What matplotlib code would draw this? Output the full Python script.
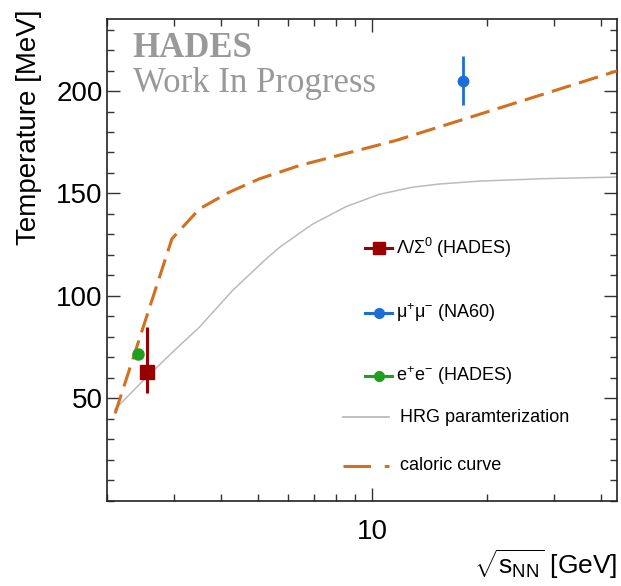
import matplotlib
matplotlib.use("Agg")
import matplotlib.pyplot as plt
from matplotlib.lines import Line2D
from matplotlib.ticker import FixedLocator, NullFormatter, FixedFormatter

# --- data ---
# Lambda/Sigma0 (HADES)
lam_x = [2.55]
lam_T = [63.0]
lam_err_lo = [10.5]
lam_err_hi = [22.0]

# mu+mu- (NA60)
mumu_x = [17.3]
mumu_T = [205.0]
mumu_err = [12.0]

# e+e- (HADES)
ee_x = [2.42]
ee_T = [71.5]

# HRG parametrization
hrg_x = [2.1, 2.55, 3.0, 3.51, 4.29, 5.25, 5.68, 6.42, 6.96, 8.51, 10.4, 12.7, 15.0, 19.1, 28.0, 44.0]
hrg_T = [44.5, 60.4, 73.0, 84.8, 102.7, 118.0, 123.5, 130.5, 135.0, 143.5, 149.5, 153.0, 154.6, 156.0, 157.2, 158.0]

# caloric curve (dashed orange)
cal_x = [2.105, 2.97, 3.51, 4.20, 5.04, 6.42, 11.5, 16.9, 44.0]
cal_T = [42.6, 127.9, 142.5, 150.6, 157.1, 163.6, 175.8, 185.5, 209.8]

x_major = [10]
x_minor = [2, 3, 4, 5, 6, 7, 8, 9, 20, 30, 40]

RED = "#990000"
BLUE = "#1c6fd6"
GREEN = "#1f9e1f"
ORANGE = "#d2701e"
GREY = "#bbbbbb"

plt.rcParams["font.family"] = ["Liberation Sans", "DejaVu Sans"]
plt.rcParams["mathtext.fontset"] = "custom"
plt.rcParams["mathtext.rm"] = "Liberation Sans"
plt.rcParams["mathtext.it"] = "Liberation Sans:italic"

fig = plt.figure(figsize=(6.21, 5.86), dpi=100)
ax = fig.add_axes([0.1718, 0.1456, 0.8218, 0.8214])

ax.plot(hrg_x, hrg_T, color=GREY, lw=1.1, zorder=2)
ax.plot(cal_x, cal_T, color=ORANGE, lw=2.2, dashes=(6.5, 2.8), zorder=3)

ax.errorbar(lam_x, lam_T, yerr=[lam_err_lo, lam_err_hi], fmt="s", color=RED,
            ms=9.5, elinewidth=2.2, capsize=0, zorder=5)
ax.errorbar(mumu_x, mumu_T, yerr=mumu_err, fmt="o", color=BLUE,
            ms=7.5, elinewidth=2.0, capsize=0, zorder=5)
ax.plot(ee_x, ee_T, "o", color=GREEN, ms=8, zorder=5)

ax.set_xscale("log")
ax.set_xlim(2, 44)
ax.set_ylim(0, 235)

ax.xaxis.set_major_locator(FixedLocator(x_major))
ax.xaxis.set_major_formatter(FixedFormatter(["10"]))
ax.xaxis.set_minor_locator(FixedLocator(x_minor))
ax.xaxis.set_minor_formatter(NullFormatter())
ax.yaxis.set_major_locator(FixedLocator([50, 100, 150, 200]))
ax.yaxis.set_minor_locator(FixedLocator(list(range(0, 240, 10))))

ax.tick_params(which="both", direction="in", top=True, right=True, width=1.0, color="#333333")
ax.tick_params(which="major", length=9.5, labelsize=20)
ax.tick_params(which="minor", length=5)
ax.tick_params(axis="x", which="major", pad=13)
ax.tick_params(axis="y", which="major", pad=3)
for sp in ax.spines.values():
    sp.set_linewidth(1.2)
    sp.set_color("#222222")

ax.set_ylabel("Temperature [MeV]", fontsize=20, loc="top")
ax.yaxis.set_label_coords(-0.127, 1.02)
fig.text(0.9936, (586 - 574) / 586, r"$\sqrt{\mathrm{s}_{\mathrm{NN}}}$ [GeV]",
         fontsize=19, ha="right", va="baseline")

# HADES label
ax.text(0.051, 0.921, "HADES", transform=ax.transAxes, fontsize=25, fontweight="bold",
        family="Liberation Serif", color="#999999", va="baseline")
ax.text(0.051, 0.849, "Work In Progress", transform=ax.transAxes, fontsize=25,
        family="Liberation Serif", color="#999999", va="baseline")

# hand-made legend (ROOT style, uneven spacing)
def px2ax(xp, yp):
    return (xp - 106.7) / 510.3, (500.7 - yp) / 481.4

tr = ax.transAxes
for yp, col, mk, ms, label in [
    (248.3, RED, "s", 8, r"Λ/Σ$^{0}$ (HADES)"),
    (312.7, BLUE, "o", 7, r"μ$^{+}$μ$^{-}$ (NA60)"),
    (376.0, GREEN, "o", 7, r"e$^{+}$e$^{-}$ (HADES)"),
]:
    x0, y0 = px2ax(365, yp)
    x1, _ = px2ax(392, yp)
    xm, _ = px2ax(379, yp)
    xt, _ = px2ax(396, yp)
    ax.add_line(Line2D([x0, x1], [y0, y0], color=col, lw=2.2, transform=tr))
    ax.add_line(Line2D([xm], [y0], color=col, marker=mk, ms=ms, transform=tr))
    ax.text(xt, y0, label, transform=tr, fontsize=13, va="center")

x0, y0 = px2ax(343, 417.3)
x1, _ = px2ax(389, 417.3)
xt, _ = px2ax(400, 417.3)
ax.add_line(Line2D([x0, x1], [y0, y0], color=GREY, lw=1.3, transform=tr))
ax.text(xt, y0, "HRG paramterization", transform=tr, fontsize=13, va="center")

x0, y0 = px2ax(343, 466)
x1, _ = px2ax(389, 466)
ax.add_line(Line2D([x0, x1], [y0, y0], color=ORANGE, lw=2.2, dashes=(9, 4.5), transform=tr))
ax.text(xt, y0, "caloric curve", transform=tr, fontsize=13, va="center")

fig.savefig("out.png", dpi=100)
